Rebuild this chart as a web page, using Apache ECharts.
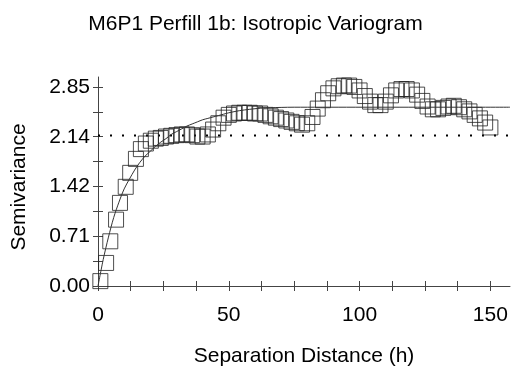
<!DOCTYPE html>
<html>
<head>
<meta charset="utf-8">
<script src="https://cdn.jsdelivr.net/npm/echarts@6/dist/echarts.min.js"></script>
<style>
html,body{margin:0;padding:0;background:#fff;}
#chart{width:511px;height:372px;}
</style>
</head>
<body>
<div id="chart"></div>
<script>
// ---- data ----
var titleText = 'M6P1 Perfill 1b: Isotropic Variogram';
var xName = 'Separation Distance (h)';
var yName = 'Semivariance';

var lagH = [0.9, 3.1, 4.7, 6.9, 8.4, 10.6, 12.3, 14.5, 16.4, 18.3, 20.2, 22.1, 24.0, 26.0, 28.0, 30.0, 32.0, 34.0, 36.0, 38.0,
  40.0, 42.0, 44.0, 46.0, 48.0, 50.0, 52.0, 54.0, 56.0, 58.0, 60.0, 62.0, 64.0, 66.0, 68.0, 70.0, 72.0, 74.0, 76.0, 78.0,
  80.0, 82.0, 84.0, 86.0, 88.0, 90.0, 92.0, 94.0, 96.0, 98.0, 100.0, 102.0, 104.0, 106.0, 108.0, 110.0, 112.0, 114.0, 116.0, 118.0,
  120.0, 122.0, 124.0, 126.0, 128.0, 130.0, 132.0, 134.0, 136.0, 138.0, 140.0, 142.0, 144.0, 146.0, 148.0, 150.0];
var semiV = [0.07, 0.33, 0.64, 0.95, 1.19, 1.42, 1.62, 1.82, 1.96, 2.04, 2.08, 2.11, 2.12, 2.14, 2.15, 2.16, 2.17, 2.17, 2.16, 2.14,
  2.14, 2.17, 2.24, 2.33, 2.41, 2.45, 2.47, 2.48, 2.48, 2.48, 2.47, 2.47, 2.45, 2.43, 2.41, 2.39, 2.37, 2.35, 2.33, 2.31,
  2.33, 2.42, 2.54, 2.66, 2.76, 2.83, 2.86, 2.87, 2.87, 2.85, 2.80, 2.72, 2.64, 2.59, 2.59, 2.64, 2.73, 2.80, 2.82, 2.82,
  2.80, 2.74, 2.65, 2.57, 2.53, 2.53, 2.55, 2.57, 2.58, 2.56, 2.53, 2.50, 2.45, 2.40, 2.34, 2.27];

var modelH = [0, 2, 4, 6, 8, 10, 12, 14, 16, 18, 20, 22, 24, 26, 28, 30, 32, 34, 36, 38, 40, 42, 44, 46, 48, 50, 54, 58, 62, 66, 70, 75, 157.5];
var modelV = [0, 0.38, 0.70, 0.98, 1.20, 1.39, 1.53, 1.66, 1.77, 1.86, 1.93, 2.00, 2.06, 2.11, 2.17, 2.21, 2.25, 2.29, 2.32, 2.35, 2.38, 2.40, 2.42, 2.44, 2.46, 2.48, 2.51, 2.53, 2.545, 2.553, 2.557, 2.56, 2.56];

var varianceH = [0, 157.5];
var varianceV = [2.155, 2.155];

var xTicks = [0, 12.5, 25, 37.5, 50, 62.5, 75, 87.5, 100, 112.5, 125, 137.5, 150];
var xLabels = [0, 50, 100, 150];
var yTicks = [0, 0.35625, 0.7125, 1.06875, 1.425, 1.78125, 2.1375, 2.49375, 2.85];
var yLabelVals = [0, 0.7125, 1.425, 2.1375, 2.85];
var yLabelText = ['0.00', '0.71', '1.42', '2.14', '2.85'];
var xMax = 157.5, yMax = 2.9925;

// ---- chart ----
function zip(a, b) { return a.map(function (v, i) { return [v, b[i]]; }); }
var FONT = 'Liberation Sans';
var FS = 21;
var axisCol = '#444';

var chart = echarts.init(document.getElementById('chart'), null, {renderer: 'canvas'});
var baseX = {
  type: 'value', min: 0, max: xMax, position: 'bottom',
  splitLine: {show: false},
  axisLine: {show: true, onZero: false, lineStyle: {color: axisCol, width: 1}},
  axisTick: {show: true, customValues: xTicks, length: 5, lineStyle: {color: axisCol}},
};
var baseY = {
  type: 'value', min: 0, max: yMax, position: 'left',
  splitLine: {show: false},
  axisLine: {show: true, onZero: false, lineStyle: {color: axisCol, width: 1}},
  axisTick: {show: true, customValues: yTicks, length: 5, lineStyle: {color: axisCol}},
};
var option = {
  animation: false,
  backgroundColor: '#fff',
  title: {
    text: titleText, left: 'center', top: 9,
    textStyle: {fontFamily: FONT, fontSize: FS, fontWeight: 'normal', color: '#000'}
  },
  grid: {left: 98, top: 77, width: 412, height: 209, containLabel: false},
  xAxis: [
    Object.assign({}, baseX, {
      name: xName, nameLocation: 'middle', nameGap: 60,
      nameTextStyle: {fontFamily: FONT, fontSize: FS, color: '#000'},
      axisLabel: {show: true, customValues: xLabels, margin: 19,
        fontFamily: FONT, fontSize: FS, color: '#000'}
    }),
    Object.assign({}, baseX, {
      axisLine: {show: false},
      axisTick: Object.assign({}, baseX.axisTick, {inside: true}),
      axisLabel: {show: false}
    })
  ],
  yAxis: [
    Object.assign({}, baseY, {
      name: yName, nameLocation: 'middle', nameGap: 68, nameRotate: 90,
      nameTextStyle: {fontFamily: FONT, fontSize: FS, color: '#000', padding: [0, 11, 0, 0]},
      axisLabel: {show: true, customValues: yLabelVals, margin: 8,
        fontFamily: FONT, fontSize: FS, color: '#000',
        formatter: function (v) {
          for (var i = 0; i < yLabelVals.length; i++) {
            if (Math.abs(yLabelVals[i] - v) < 1e-6) return yLabelText[i];
          }
          return '';
        }}
    }),
    Object.assign({}, baseY, {
      axisLine: {show: false},
      axisTick: Object.assign({}, baseY.axisTick, {inside: true}),
      axisLabel: {show: false}
    })
  ],
  series: [
    {
      type: 'line', xAxisIndex: 0, yAxisIndex: 0,
      data: zip(varianceH, varianceV), showSymbol: false, symbol: 'none',
      lineStyle: {color: '#000', width: 2, type: [2, 10]}, silent: true, z: 1
    },
    {
      type: 'scatter', xAxisIndex: 0, yAxisIndex: 0,
      data: zip(lagH, semiV), symbol: 'rect', symbolSize: 15, clip: false,
      itemStyle: {color: 'rgba(0,0,0,0)', borderColor: '#222', borderWidth: 1}, z: 2
    },
    {
      type: 'line', xAxisIndex: 0, yAxisIndex: 0,
      data: zip(modelH, modelV), showSymbol: false, symbol: 'none', smooth: 0.3,
      lineStyle: {color: '#333', width: 1}, silent: true, z: 3
    }
  ]
};
chart.setOption(option);
</script>
</body>
</html>
